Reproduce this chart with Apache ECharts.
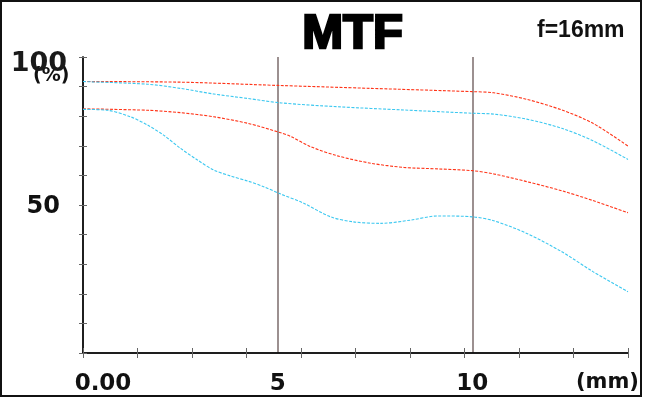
<!DOCTYPE html>
<html>
<head>
<meta charset="utf-8">
<script src="https://cdn.jsdelivr.net/npm/echarts@6/dist/echarts.min.js"></script>
<style>
  html, body { margin: 0; padding: 0; background: #fff; }
  #chart { width: 648px; height: 398px; }
</style>
</head>
<body>
<div id="chart"></div>
<script>
  // image height (mm) and MTF (%)
  var red1X  = [0, 2.5, 5.0, 7.4, 10.0, 10.55, 11.4, 12.3, 13.1, 14.0];
  var red1Y  = [91.7, 91.5, 90.4, 89.4, 88.3, 87.9, 85.7, 82.1, 77.6, 69.9];
  var cyan1X = [0, 1.66, 2.5, 3.36, 4.23, 5.08, 6.54, 8.24, 10.0, 10.55, 11.4, 12.3, 13.1, 14.0];
  var cyan1Y = [91.7, 90.8, 89.4, 87.5, 86.0, 84.5, 83.2, 82.1, 81.0, 80.7, 79.0, 75.9, 71.7, 65.4];
  var red2X  = [0, 1.66, 2.5, 3.36, 4.23, 5.08, 5.33, 5.85, 6.54, 7.4, 8.24, 9.11, 10.0, 10.55, 11.4, 12.3, 13.1, 14.0];
  var red2Y  = [82.5, 82.0, 81.2, 79.8, 77.6, 74.4, 73.2, 69.7, 66.6, 64.1, 62.7, 62.2, 61.6, 60.5, 57.9, 54.8, 51.5, 47.4];
  var cyan2X = [0, 0.63, 1.22, 1.66, 2.07, 2.5, 2.94, 3.36, 3.79, 4.23, 4.64, 5.08, 5.67, 6.36, 6.95, 7.65, 8.42, 9.11, 10.0, 10.55, 11.4, 12.3, 13.1, 14.0];
  var cyan2Y = [82.3, 82.0, 79.8, 77.0, 73.6, 69.2, 65.2, 61.8, 59.8, 58.1, 56.2, 53.7, 50.6, 46.0, 44.3, 43.8, 44.9, 46.3, 46.0, 44.7, 40.4, 34.2, 27.5, 20.7];
  var xLabels = { 0: '0.00', 5: '5', 10: '10' };
  var yLabels = { 100: '100', 50: '50' };

  var RED = '#ff3519';
  var CYAN = '#3cc8f0';

  function pairs(xs, ys) {
    return xs.map(function (x, i) { return [x, ys[i]]; });
  }
  function line(name, xs, ys, color) {
    return {
      name: name, type: 'line', xAxisIndex: 0, yAxisIndex: 0,
      data: pairs(xs, ys), smooth: 0.3, symbol: 'none',
      lineStyle: { color: color, width: 1.1, type: [3, 1.5] },
      z: 5
    };
  }

  var chart = echarts.init(document.getElementById('chart'));
  var tickAxis = {
    type: 'value', min: 0, max: 14, interval: 1.4,
    axisLine: { show: true, lineStyle: { color: '#111', width: 1.5 } },
    axisTick: { show: true, inside: true, length: 5, lineStyle: { color: '#666' } },
    axisLabel: { show: false }, splitLine: { show: false }
  };
  chart.setOption({
    animation: false,
    backgroundColor: '#fff',
    grid: { left: 83, right: 20, top: 57, bottom: 45 },
    xAxis: [
      Object.assign({ position: 'bottom' }, tickAxis),
      Object.assign({ position: 'top' }, tickAxis),
      {
        type: 'value', position: 'bottom', min: 0, max: 14, interval: 5,
        axisLine: { show: false }, axisTick: { show: false },
        splitLine: { show: true, showMinLine: false, showMaxLine: false, lineStyle: { color: '#7b6b6b', width: 1.5 } },
        axisLabel: {
          margin: 20, color: '#111',
          fontFamily: 'DejaVu Sans', fontWeight: 'bold', fontSize: 23,
          formatter: function (v) {
            if (v === 0) return '{z|0.00}';
            return xLabels[v] !== undefined ? xLabels[v] : '';
          },
          rich: { z: { padding: [0, 0, 0, 40], fontFamily: 'DejaVu Sans', fontWeight: 'bold', fontSize: 23, color: '#111' } }
        }
      }
    ],
    yAxis: [
      {
        type: 'value', position: 'left', min: 0, max: 100, interval: 10,
        axisLine: { show: true, lineStyle: { color: '#111', width: 1.5 } },
        axisTick: { show: true, inside: true, length: 4, lineStyle: { color: '#666' } },
        splitLine: { show: false },
        axisLabel: {
          margin: 0, color: '#111',
          formatter: function (v) {
            if (v === 100) return '{a|' + yLabels[v] + '}';
            if (v === 50) return '{b|' + yLabels[v] + '}';
            return '';
          },
          rich: {
            a: { fontFamily: 'DejaVu Sans', fontWeight: 'bold', fontSize: 27, color: '#1a1a1a', padding: [14, 16, 0, 0] },
            b: { fontFamily: 'DejaVu Sans', fontWeight: 'bold', fontSize: 24, color: '#111', padding: [3, 23, 0, 0] }
          }
        }
      },
      {
        type: 'value', position: 'right', min: 0, max: 100, interval: 10,
        axisLine: { show: true, lineStyle: { color: '#111', width: 1.5 } },
        axisTick: { show: true, inside: true, length: 4, lineStyle: { color: '#666' } },
        axisLabel: { show: false }, splitLine: { show: false }
      }
    ],
    graphic: [
      { type: 'rect', shape: { x: 1, y: 1, width: 640, height: 395 }, style: { fill: 'none', stroke: '#111', lineWidth: 2 }, z: 100 },
      { type: 'text', left: 301, top: 9, style: { text: 'MTF', fontFamily: 'Liberation Sans', fontWeight: 'bold', fontSize: 49, fill: '#000', stroke: '#000', lineWidth: 2.5 } },
      { type: 'text', left: 537, top: 19, style: { text: 'f=16mm', fontFamily: 'Liberation Sans', fontWeight: 'bold', fontSize: 23, fill: '#111' } },
      { type: 'text', left: 33, top: 67, style: { text: '(%)', fontFamily: 'DejaVu Sans', fontWeight: 'bold', fontSize: 19, fill: '#111' } },
      { type: 'text', left: 576, top: 372, style: { text: '(mm)', fontFamily: 'DejaVu Sans', fontWeight: 'bold', fontSize: 21, fill: '#111' } }
    ],
    series: [
      line('S10', red1X, red1Y, RED),
      line('M10', cyan1X, cyan1Y, CYAN),
      line('S30', red2X, red2Y, RED),
      line('M30', cyan2X, cyan2Y, CYAN)
    ]
  });
</script>
</body>
</html>
